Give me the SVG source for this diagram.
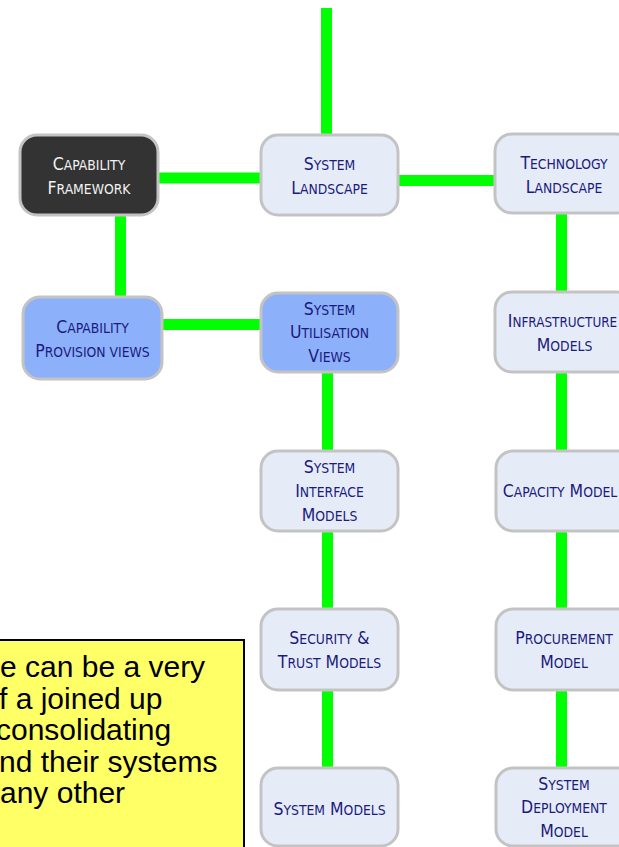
<svg xmlns="http://www.w3.org/2000/svg" width="619" height="847" viewBox="0 0 619 847">
<style>
.n{stroke:#c3c3c3;stroke-width:3}
.l{fill:#e6ecf7}
.b{fill:#8db0fb}
.d{fill:#333333}
.t{font-family:'DejaVu Sans Condensed','DejaVu Sans',sans-serif;font-stretch:condensed;font-size:17.5px;text-anchor:middle;fill:#1b1b7d}
.s{font-size:13.8px}
.w{fill:#f2f2f2}
.c line{stroke:#00ff00;stroke-width:11}
.y{font-family:'Liberation Sans',Arial,sans-serif;font-size:30px;fill:#000}
</style>
<rect width="619" height="847" fill="#fff"/>
<g id="note">
<rect x="-10" y="640" width="254" height="220" fill="#ffff66" stroke="#000" stroke-width="2"/>
<text class="y" x="0" y="677">e can be a very</text>
<text class="y" x="-1" y="708.5">f a joined up</text>
<text class="y" x="-4" y="740">consolidating</text>
<text class="y" x="-1" y="771.5">nd their systems</text>
<text class="y" x="0" y="803">any other</text>
</g>
<g id="connectors" class="c">
<line x1="326.5" y1="8" x2="326.5" y2="136"/>
<line x1="157" y1="178" x2="262" y2="178"/>
<line x1="397" y1="180.5" x2="496" y2="180.5"/>
<line x1="120.5" y1="214" x2="120.5" y2="298"/>
<line x1="161" y1="324.5" x2="262" y2="324.5"/>
<line x1="327.5" y1="371" x2="327.5" y2="452"/>
<line x1="327.5" y1="530" x2="327.5" y2="610"/>
<line x1="327.5" y1="689" x2="327.5" y2="769"/>
<line x1="561.5" y1="212" x2="561.5" y2="294"/>
<line x1="561.5" y1="371" x2="561.5" y2="452"/>
<line x1="561.5" y1="530" x2="561.5" y2="610"/>
<line x1="561.5" y1="689" x2="561.5" y2="769"/>
</g>
<g id="capability-framework">
<rect class="n d" x="20" y="135" width="138" height="80" rx="17"/>
<text class="t w" x="89" y="170">C<tspan class="s">APABILITY</tspan></text>
<text class="t w" x="89" y="194">F<tspan class="s">RAMEWORK</tspan></text>
</g>
<g id="system-landscape">
<rect class="n l" x="261" y="135" width="137" height="80" rx="17"/>
<text class="t" x="329.5" y="170">S<tspan class="s">YSTEM</tspan></text>
<text class="t" x="329.5" y="194">L<tspan class="s">ANDSCAPE</tspan></text>
</g>
<g id="technology-landscape">
<rect class="n l" x="495" y="134" width="138" height="79" rx="17"/>
<text class="t" x="564" y="169">T<tspan class="s">ECHNOLOGY</tspan></text>
<text class="t" x="564" y="193">L<tspan class="s">ANDSCAPE</tspan></text>
</g>
<g id="capability-provision-views">
<rect class="n b" x="23" y="297" width="139" height="82" rx="17"/>
<text class="t" x="92.5" y="333">C<tspan class="s">APABILITY</tspan></text>
<text class="t" x="92.5" y="357">P<tspan class="s">ROVISION VIEWS</tspan></text>
</g>
<g id="system-utilisation-views">
<rect class="n b" x="261" y="293" width="137" height="79" rx="17"/>
<text class="t" x="329.5" y="315">S<tspan class="s">YSTEM</tspan></text>
<text class="t" x="329.5" y="338">U<tspan class="s">TILISATION</tspan></text>
<text class="t" x="329.5" y="362">V<tspan class="s">IEWS</tspan></text>
</g>
<g id="infrastructure-models">
<rect class="n l" x="495" y="292" width="138" height="80" rx="17"/>
<text class="t" x="562.5" y="327">I<tspan class="s" style="font-size:13.4px">NFRASTRUCTURE</tspan></text>
<text class="t" x="564.5" y="351">M<tspan class="s">ODELS</tspan></text>
</g>
<g id="system-interface-models">
<rect class="n l" x="261" y="451" width="137" height="80" rx="17"/>
<text class="t" x="329.5" y="473">S<tspan class="s">YSTEM</tspan></text>
<text class="t" x="329.5" y="497">I<tspan class="s">NTERFACE</tspan></text>
<text class="t" x="329.5" y="521">M<tspan class="s">ODELS</tspan></text>
</g>
<g id="capacity-model">
<rect class="n l" x="496" y="451" width="138" height="80" rx="17"/>
<text class="t" x="560" y="497">C<tspan class="s">APACITY</tspan> M<tspan class="s">ODEL</tspan></text>
</g>
<g id="security-trust-models">
<rect class="n l" x="261" y="609" width="137" height="81" rx="17"/>
<text class="t" x="329.5" y="644">S<tspan class="s">ECURITY</tspan> &amp;</text>
<text class="t" x="329.5" y="668">T<tspan class="s">RUST</tspan> M<tspan class="s">ODELS</tspan></text>
</g>
<g id="procurement-model">
<rect class="n l" x="496" y="609" width="138" height="81" rx="17"/>
<text class="t" x="564" y="644">P<tspan class="s">ROCUREMENT</tspan></text>
<text class="t" x="564" y="668">M<tspan class="s">ODEL</tspan></text>
</g>
<g id="system-models">
<rect class="n l" x="261" y="768" width="137" height="78" rx="17"/>
<text class="t" x="329.5" y="815">S<tspan class="s">YSTEM</tspan> M<tspan class="s">ODELS</tspan></text>
</g>
<g id="system-deployment-model">
<rect class="n l" x="496" y="768" width="138" height="78" rx="17"/>
<text class="t" x="564" y="790">S<tspan class="s">YSTEM</tspan></text>
<text class="t" x="564" y="813">D<tspan class="s">EPLOYMENT</tspan></text>
<text class="t" x="564" y="837">M<tspan class="s">ODEL</tspan></text>
</g>
</svg>
